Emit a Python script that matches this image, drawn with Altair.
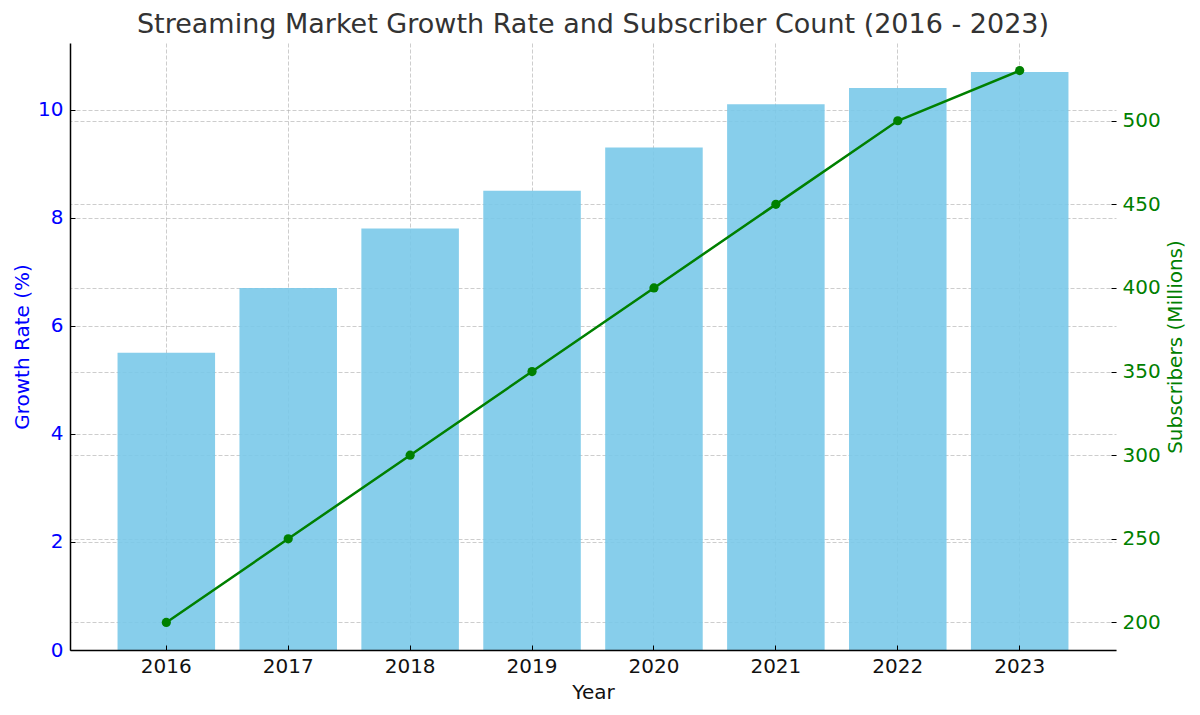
import altair as alt
import pandas as pd

years = ["2016", "2017", "2018", "2019", "2020", "2021", "2022", "2023"]
growth = [5.5, 6.7, 7.8, 8.5, 9.3, 10.1, 10.4, 10.7]
subscribers = [200, 250, 300, 350, 400, 450, 500, 530]
left_ticks = [0, 2, 4, 6, 8, 10]
right_ticks = [200, 250, 300, 350, 400, 450, 500]

df = pd.DataFrame({"Year": years, "Growth": growth, "Subs": subscribers})

FONT = "DejaVu Sans"
GRID = dict(grid=True, gridColor="#b0b0b0", gridOpacity=0.7, gridDash=[4, 2], gridWidth=0.9)
GRID_ONLY = dict(title=None, ticks=False, labels=False, domain=False, zindex=0, **GRID)

xscale = alt.Scale(paddingInner=0.2, paddingOuter=0.39)
yl_scale = alt.Scale(domain=[0, 11.235], nice=False, zero=False)
yr_scale = alt.Scale(domain=[183.5, 546.5], nice=False, zero=False)

base = alt.Chart(df)

# grid lines of the left and bottom axes (behind the bars)
grid_left = base.mark_bar(opacity=0).encode(
    x=alt.X("Year:N", scale=xscale, sort=years, axis=alt.Axis(orient="bottom", **GRID_ONLY)),
    y=alt.Y("Growth:Q", scale=yl_scale,
            axis=alt.Axis(orient="left", values=left_ticks, **GRID_ONLY)),
)

# grid lines of the right axis
grid_right = base.mark_point(opacity=0).encode(
    x=alt.X("Year:N", scale=xscale, sort=years, axis=None),
    y=alt.Y("Subs:Q", scale=yr_scale,
            axis=alt.Axis(orient="right", values=right_ticks, **GRID_ONLY)),
)

bars = base.mark_bar(color="#7AC9E9", opacity=0.9).encode(
    x=alt.X("Year:N", scale=xscale, sort=years,
            axis=alt.Axis(title="Year", orient="bottom", labelAngle=0, ticks=False,
                          domain=True, domainColor="black", domainWidth=1.5,
                          labelPadding=6, titlePadding=6, labelColor="#111111",
                          titleColor="#111111", zindex=1, grid=False)),
    y=alt.Y("Growth:Q", scale=yl_scale,
            axis=alt.Axis(title="Growth Rate (%)", orient="left", values=left_ticks,
                          ticks=False, domain=True, domainColor="black", domainWidth=1.5,
                          labelColor="blue", titleColor="blue", labelPadding=7,
                          titlePadding=5, zindex=1, grid=False)),
)

tick_layer = base.mark_bar(opacity=0).encode(
    x=alt.X("Year:N", scale=xscale, sort=years,
            axis=alt.Axis(title=None, orient="bottom", offset=-5, ticks=True, tickSize=5,
                          tickColor="black", tickWidth=1, labels=False, domain=False,
                          grid=False, zindex=2)),
    y=alt.Y("Growth:Q", scale=yl_scale,
            axis=alt.Axis(title=None, orient="left", offset=-5, values=left_ticks,
                          ticks=True, tickSize=5, tickColor="black", tickWidth=1,
                          labels=False, domain=False, grid=False, zindex=2)),
)

line = base.mark_line(color="green", strokeWidth=2.5,
                      point=alt.OverlayMarkDef(filled=True, size=85, color="green")).encode(
    x=alt.X("Year:N", scale=xscale, sort=years, axis=None),
    y=alt.Y("Subs:Q", scale=yr_scale,
            axis=alt.Axis(title="Subscribers (Millions)", orient="right", values=right_ticks,
                          offset=-5, ticks=True, tickSize=5, tickColor="black", tickWidth=1,
                          domain=False, labelColor="green", titleColor="green",
                          labelPadding=6, titlePadding=5, titleAngle=270,
                          titleBaseline="top", zindex=1, grid=False)),
)

chart = alt.layer(grid_left, grid_right, bars, tick_layer, line).resolve_scale(
    y="independent"
).resolve_axis(
    x="independent", y="independent"
).properties(
    width=1046,
    height=607,
    autosize=alt.AutoSizeParams(type="none"),
    padding={"left": 62, "top": 35, "right": 76, "bottom": 57},
    title=alt.TitleParams(
        "Streaming Market Growth Rate and Subscriber Count (2016 - 2023)",
        fontSize=27, font=FONT, fontWeight="normal", color="#333333",
        anchor="middle", offset=4,
    ),
).configure_view(
    stroke=None
).configure_axis(
    labelFont=FONT, titleFont=FONT, labelFontSize=20, titleFontSize=20,
    titleFontWeight="normal",
)

chart.save("out.html", embed_options={"renderer": "svg", "actions": False})
